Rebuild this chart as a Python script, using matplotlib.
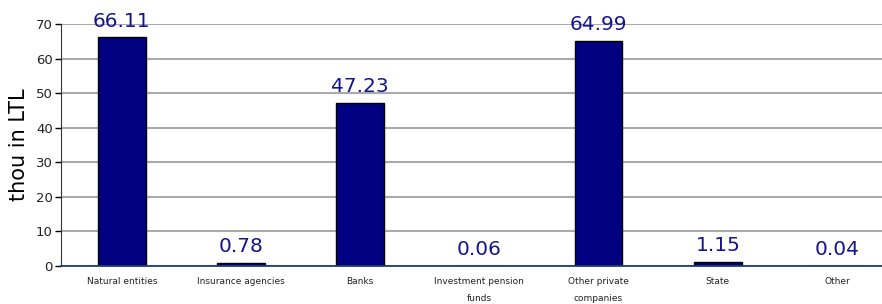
import matplotlib
matplotlib.use("Agg")
import matplotlib.pyplot as plt

categories = ["Natural entities", "Insurance agencies", "Banks", "Investment pension\nfunds",
              "Other private\ncompanies", "State", "Other"]
values = [66.11, 0.78, 47.23, 0.06, 64.99, 1.15, 0.04]
value_labels = ["66.11", "0.78", "47.23", "0.06", "64.99", "1.15", "0.04"]
yticks = [0, 10, 20, 30, 40, 50, 60, 70]

fig = plt.figure(figsize=(8.82, 3.04), dpi=100)
ax = fig.add_axes([61/882, 38/304, 1 - 61/882, 242/304])

x = list(range(len(categories)))
ax.bar(x, values, width=0.4, color="#000080", edgecolor="black", linewidth=1, zorder=3)

for xi, v, lab in zip(x, values, value_labels):
    ax.annotate(lab, (xi, v), xytext=(0, 5), textcoords="offset points",
                ha="center", va="bottom", fontsize=14.5, color="#14148c", zorder=4)

ax.set_xlim(-0.51, 6.378)
ax.set_ylim(0, 70)
ax.set_yticks(yticks)
ax.set_yticklabels([str(t) for t in yticks], fontsize=9.5, color="#222222")
ax.set_xticks(x)
ax.set_xticklabels(categories, fontsize=6.5, color="#222222", linespacing=2.15, va="top")
ax.tick_params(axis="x", length=0, pad=8)
ax.tick_params(axis="y", length=4, width=1, direction="out", pad=2)

ax.yaxis.grid(True, color="#aaaaaa", linewidth=1.5, zorder=0)
ax.set_axisbelow(True)
for s in ["top", "right"]:
    ax.spines[s].set_visible(False)
ax.spines["left"].set_color("#333333")
ax.spines["bottom"].set_color("#1f3f6f")
ax.spines["bottom"].set_linewidth(1.3)
ax.spines["bottom"].set_zorder(5)

ax.set_ylabel("thou in LTL", fontsize=15, labelpad=5)

fig.savefig("out.png", dpi=100)
